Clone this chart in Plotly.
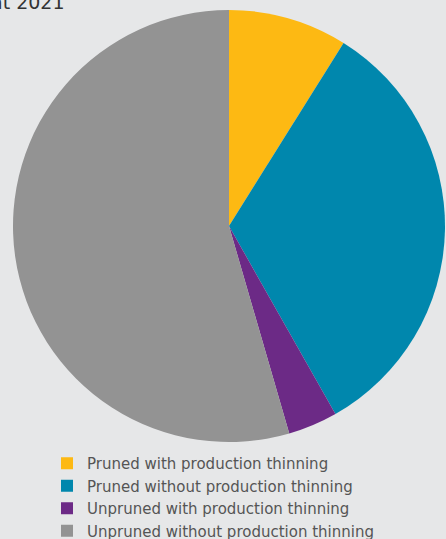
import plotly.graph_objects as go

categories = [
    "Pruned with production thinning",
    "Pruned without production thinning",
    "Unpruned with production thinning",
    "Unpruned without production thinning",
]
values = [8.9, 32.9, 3.7, 54.5]
colors = ["#fdb913", "#0087ad", "#6c2a86", "#939393"]

W, H = 446, 539
cx, cy, r = 229, 226, 216

fig = go.Figure(go.Pie(
    labels=categories,
    values=values,
    marker=dict(colors=colors, line=dict(width=0)),
    sort=False,
    direction="clockwise",
    rotation=0,
    textinfo="none",
    textposition="inside",
    hoverinfo="label+percent",
    domain=dict(x=[(cx - r) / W, (cx + r) / W], y=[1 - (cy + r) / H, 1 - (cy - r) / H]),
))

fig.update_layout(
    width=W, height=H,
    margin=dict(l=0, r=0, t=0, b=0, autoexpand=False),
    paper_bgcolor="#e6e7e8",
    plot_bgcolor="#e6e7e8",
    showlegend=True,
    legend=dict(
        x=47 / W, y=1 - 447 / H, xanchor="left", yanchor="top",
        font=dict(family="DejaVu Sans, sans-serif", size=15, color="#555555"),
        bgcolor="rgba(0,0,0,0)",
        itemclick=False,
    ),
    annotations=[dict(
        text="at 2021", xref="paper", yref="paper",
        x=67 / W, y=1 + 11 / H, xanchor="right", yanchor="top",
        showarrow=False,
        font=dict(family="DejaVu Sans, sans-serif", size=19, color="#333333"),
    )],
)

fig.write_html(
    "out.html",
    config={"displayModeBar": False},
    post_script="document.body.style.margin='0';document.body.style.background='#e6e7e8';",
)
